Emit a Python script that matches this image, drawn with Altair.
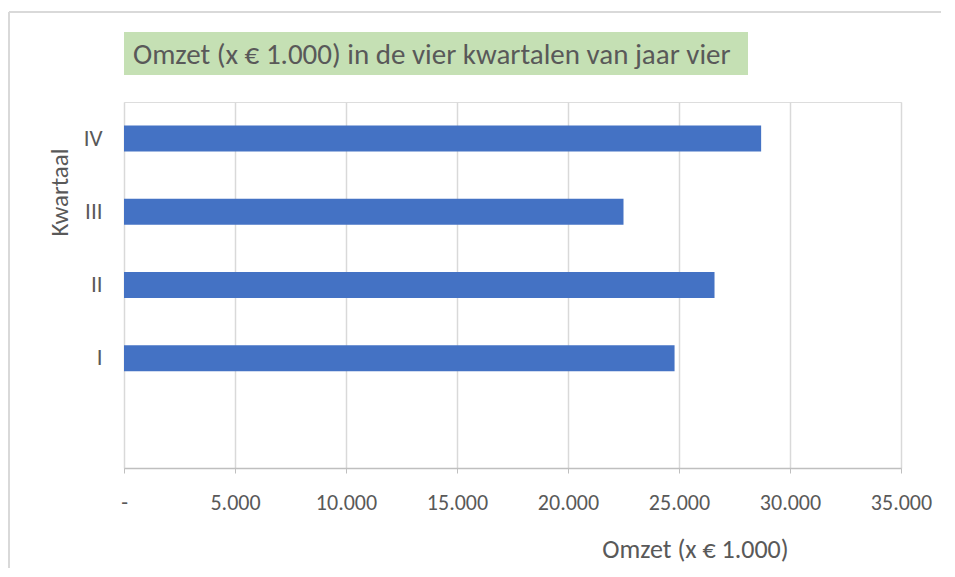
import altair as alt
import pandas as pd

quarters = ["I", "II", "III", "IV"]
omzet = [24800, 26600, 22500, 28700]
y_order = ["IV", "III", "II", "I", ""]
x_ticks = [0, 5000, 10000, 15000, 20000, 25000, 30000, 35000]
title_text = "Omzet (x € 1.000) in de vier kwartalen van jaar vier"
x_title = "Omzet (x € 1.000)"
y_title = "Kwartaal"

FONT = "Calibri, Carlito, Lato, sans-serif"
GRAY = "#595959"

df = pd.DataFrame({"Kwartaal": quarters, "Omzet": omzet})

bars = alt.Chart(df).mark_bar(color="#4472c4").encode(
    x=alt.X(
        "Omzet:Q",
        scale=alt.Scale(domain=[0, 35000], nice=False, zero=True),
        axis=alt.Axis(
            values=x_ticks,
            labelExpr="datum.value == 0 ? '-' : format(datum.value / 1000, 'd') + '.000'",
            title=x_title,
            grid=True,
            gridColor="#d9d9d9",
            gridWidth=1.5,
            domainColor="#bfbfbf",
            domainWidth=1.5,
            tickColor="#bfbfbf",
            tickSize=5,
            labelPadding=19,
            labelFontSize=22,
            labelColor=GRAY,
            labelFont=FONT,
            labelFlush=False,
            titleFont=FONT,
            titleFontSize=26,
            titleFontWeight="normal",
            titleColor=GRAY,
            titleX=571,
            titleY=81,
            titleAlign="center",
            titleBaseline="middle",
        ),
    ),
    y=alt.Y(
        "Kwartaal:N",
        sort=y_order,
        scale=alt.Scale(domain=y_order, paddingInner=0.645, paddingOuter=0.3225),
        axis=alt.Axis(
            title=y_title,
            domain=False,
            ticks=False,
            grid=False,
            labelPadding=22,
            labelFontSize=23,
            labelColor=GRAY,
            labelFont=FONT,
            titleFont=FONT,
            titleFontSize=25,
            titleFontWeight="normal",
            titleColor=GRAY,
            titleAngle=270,
            titleX=-65,
            titleY=90,
            titleAlign="center",
            titleBaseline="middle",
        ),
    ),
)

tdf = pd.DataFrame({"t": [title_text]})
title_box = alt.Chart(tdf).mark_rect(color="#c5e0b4").encode(
    x=alt.value(0), x2=alt.value(624), y=alt.value(-70), y2=alt.value(-27)
)
title_txt = alt.Chart(tdf).mark_text(
    align="left", baseline="middle", font=FONT, fontSize=29, color=GRAY
).encode(x=alt.value(9), y=alt.value(-47), text="t:N")

frame_top = alt.Chart(tdf).mark_rule(color="#d9d9d9", strokeWidth=2).encode(
    x=alt.value(-115), x2=alt.value(840), y=alt.value(-90)
)
frame_left = alt.Chart(tdf).mark_rule(color="#d9d9d9", strokeWidth=2).encode(
    x=alt.value(-115), y=alt.value(-90), y2=alt.value(480)
)

chart = alt.layer(frame_top, frame_left, title_box, title_txt, bars).properties(
    width=777,
    height=366,
    autosize=alt.AutoSizeParams(type="none"),
    padding={"left": 116, "top": 94, "right": 40, "bottom": 100},
).configure_view(stroke=None).configure(background="white")

chart.save("out.html", embed_options={"renderer": "svg", "actions": False})
